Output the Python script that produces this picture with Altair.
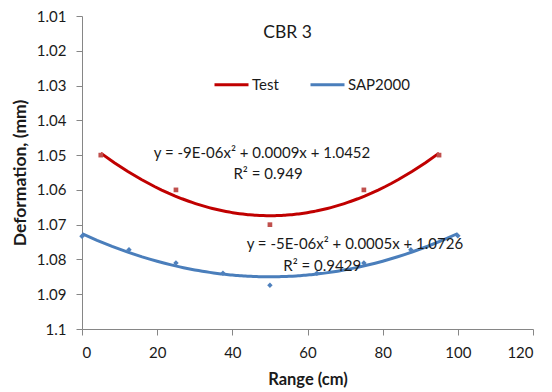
import altair as alt
import pandas as pd

# Data
test_x = [5, 25, 50, 75, 95]
test_y = [1.050, 1.060, 1.070, 1.060, 1.050]

sap_x = [0, 12.5, 25, 37.5, 50, 62.5, 75, 87.5, 100]
sap_y = [1.0733, 1.0772, 1.0810, 1.0840, 1.0874, 1.0840, 1.0810, 1.0772, 1.0732]

series_names = ["Test", "SAP2000"]
line_colors = ["#C00000", "#4A7EBB"]
y_ticks = [1.01, 1.02, 1.03, 1.04, 1.05, 1.06, 1.07, 1.08, 1.09, 1.1]
x_ticks = [0, 20, 40, 60, 80, 100, 120]

eq_text = [
    "y = -9E-06x\u00b2 + 0.0009x + 1.0452",
    "R\u00b2 = 0.949",
    "y = -5E-06x\u00b2 + 0.0005x + 1.0726",
    "R\u00b2 = 0.9429",
]
eq_x = [47.9, 49.5, 72.6, 63.9]
eq_y = [1.0493, 1.0553, 1.0756, 1.0819]

FONT = "Lato"
TXT = "#1a1a1a"

df = pd.DataFrame(
    {"x": test_x + sap_x,
     "y": test_y + sap_y,
     "series": ["Test"] * len(test_x) + ["SAP2000"] * len(sap_x)}
)
ann = pd.DataFrame({"text": eq_text, "x": eq_x, "y": eq_y})

xs = alt.Scale(domain=[0, 120], nice=False)
ys = alt.Scale(domain=[1.01, 1.1], reverse=True, nice=False, zero=False)

xaxis = alt.Axis(values=x_ticks, grid=False, domainColor="#868686",
                 tickColor="#868686", tickSize=6, labelPadding=10,
                 labelFontSize=15, labelColor=TXT, labelFont=FONT,
                 labelOverlap=False,
                 titleFont=FONT, titleFontSize=16.5, titleFontWeight="bold",
                 titleColor=TXT, titlePadding=11)
yaxis = alt.Axis(values=y_ticks, format=".2~f", grid=False,
                 domainColor="#868686", tickColor="#868686", tickSize=6,
                 labelPadding=10, labelFontSize=15, labelColor=TXT,
                 labelOverlap=False,
                 labelFont=FONT, titleFont=FONT, titleFontSize=17.5,
                 titleFontWeight="bold", titleColor=TXT, titlePadding=7)


def xenc():
    return alt.X("x:Q", scale=xs, title="Range (cm)", axis=xaxis)


def yenc():
    return alt.Y("y:Q", scale=ys, title="Deformation, (mm)", axis=yaxis)


base = alt.Chart(df)

lines = base.transform_regression(
    "x", "y", method="poly", order=2, groupby=["series"]
).mark_line(strokeWidth=3).encode(
    x=xenc(), y=yenc(),
    color=alt.Color("series:N",
                    scale=alt.Scale(domain=series_names, range=line_colors),
                    legend=alt.Legend(title=None, orient="none", direction="horizontal",
                                      legendX=131, legendY=50,
                                      symbolType="stroke", symbolSize=1156,
                                      symbolStrokeWidth=3, labelFontSize=15,
                                      labelFont=FONT, labelColor=TXT,
                                      labelOffset=2, columnPadding=25)),
)

test_pts = base.transform_filter(alt.datum.series == "Test").mark_point(
    shape="square", filled=True, size=22, color="#C0504D", opacity=1
).encode(x=xenc(), y=yenc())

sap_pts = base.transform_filter(alt.datum.series == "SAP2000").mark_point(
    shape="diamond", filled=True, size=30, color="#4F81BD", opacity=1
).encode(x=xenc(), y=yenc())

texts = alt.Chart(ann).mark_text(font=FONT, fontSize=15, color=TXT).encode(
    x=xenc(), y=yenc(), text="text:N"
)

chart = alt.layer(lines, test_pts, sap_pts, texts).properties(
    width=451, height=313,
    padding={"left": 82, "top": 16, "right": 19, "bottom": 63},
    autosize="none",
    title=alt.Title("CBR 3", font=FONT, fontSize=17.5, fontWeight="normal",
                    color=TXT, offset=-32, dx=-20, anchor="middle"),
).configure_view(stroke=None).configure_axis(labelOverlap=False)

chart.save("out.html", embed_options={"renderer": "svg", "actions": False})
